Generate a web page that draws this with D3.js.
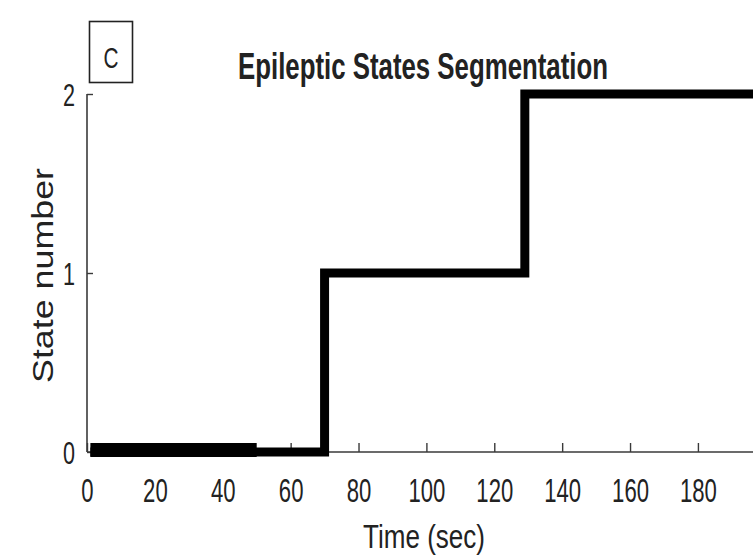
<!DOCTYPE html>
<html>
<head>
<meta charset="utf-8">
<script src="https://cdn.jsdelivr.net/npm/d3@7"></script>
<style>
  html, body { margin: 0; padding: 0; background: #fff; }
  svg { display: block; }
  text { font-family: "Liberation Sans", Arial, sans-serif; fill: #222; }
</style>
</head>
<body>
<svg id="chart" width="753" height="559"></svg>
<script>
// Segment boundaries (seconds) and the state held on each segment
const segmentStarts = [1, 70, 129];
const segmentEnds   = [70, 129, 200];
const segmentStates = [0, 1, 2];

// Early part of state 0 drawn heavier
const heavyStart = 1;
const heavyEnd = 50;
const heavyState = 0;

const xTicks = [0, 20, 40, 60, 80, 100, 120, 140, 160, 180];
const yTicks = [0, 1, 2];

const titleText = "Epileptic States Segmentation";
const xLabel = "Time (sec)";
const yLabel = "State number";
const panelLetter = "C";

const svg = d3.select("#chart");

const x = d3.scaleLinear().domain([0, 200]).range([87, 765.8]);
const y = d3.scaleLinear().domain([0, 2]).range([452, 94]);

// Build the step path from the segments
const stepPoints = [];
segmentStarts.forEach((s, i) => {
  stepPoints.push([s, segmentStates[i]]);
  stepPoints.push([segmentEnds[i], segmentStates[i]]);
});

const line = d3.line().x(d => x(d[0])).y(d => y(d[1]));

// Axes
const axisColor = "#3a3a3a";

const xAxis = d3.axisBottom(x).tickValues(xTicks).tickSizeInner(-9).tickSizeOuter(0).tickFormat(d3.format("d"));
const gx = svg.append("g").attr("transform", `translate(0,${y(0)})`).call(xAxis);
gx.select(".domain").attr("stroke", axisColor).attr("stroke-width", 1.6).attr("d", `M${x(0)},0H753`);
gx.selectAll(".tick line").attr("stroke", axisColor).attr("stroke-width", 1.4);
gx.selectAll(".tick text")
  .attr("y", 50).attr("dy", 0)
  .attr("font-size", 33)
  .attr("fill", "#222")
  .attr("font-family", "Liberation Sans, Arial, sans-serif")
  .attr("text-anchor", "middle")
  .attr("lengthAdjust", "spacingAndGlyphs")
  .attr("textLength", function() { return 12.3 * this.textContent.length; });

const yAxis = d3.axisLeft(y).tickValues(yTicks).tickSizeInner(-6).tickSizeOuter(0).tickFormat(d3.format("d"));
const gy = svg.append("g").attr("transform", `translate(${x(0)},0)`).call(yAxis);
gy.select(".domain").attr("stroke", axisColor).attr("stroke-width", 1.6).attr("d", `M0,${y(2)}V${y(0)}`);
gy.selectAll(".tick line").attr("stroke", axisColor).attr("stroke-width", 1.4);
gy.selectAll(".tick text")
  .attr("x", -12).attr("dy", "0.36em")
  .attr("font-size", 31)
  .attr("fill", "#222")
  .attr("font-family", "Liberation Sans, Arial, sans-serif")
  .attr("text-anchor", "end")
  .attr("lengthAdjust", "spacingAndGlyphs")
  .attr("textLength", 12);

// State sequence
svg.append("path")
  .datum(stepPoints)
  .attr("d", line)
  .attr("fill", "none")
  .attr("stroke", "#000")
  .attr("stroke-width", 9)
  .attr("stroke-linejoin", "miter");

svg.append("path")
  .datum([[heavyStart, heavyState], [heavyEnd, heavyState]])
  .attr("d", line)
  .attr("fill", "none")
  .attr("stroke", "#000")
  .attr("stroke-width", 14)
  .attr("transform", "translate(0,-2)");

// Title and axis labels
svg.append("text")
  .attr("x", 423).attr("y", 79)
  .attr("text-anchor", "middle")
  .attr("font-size", 36).attr("font-weight", "bold")
  .attr("fill", "#111")
  .attr("lengthAdjust", "spacingAndGlyphs").attr("textLength", 370)
  .text(titleText);

svg.append("text")
  .attr("x", 424).attr("y", 548)
  .attr("text-anchor", "middle")
  .attr("font-size", 34)
  .attr("lengthAdjust", "spacingAndGlyphs").attr("textLength", 122)
  .text(xLabel);

svg.append("text")
  .attr("transform", "translate(53,275.5) rotate(-90)")
  .attr("text-anchor", "middle")
  .attr("font-size", 29)
  .attr("lengthAdjust", "spacingAndGlyphs").attr("textLength", 215)
  .text(yLabel);

// Panel letter box
svg.append("rect")
  .attr("x", 89.5).attr("y", 21.5).attr("width", 43).attr("height", 61)
  .attr("fill", "none").attr("stroke", "#222").attr("stroke-width", 1.6);
svg.append("text")
  .attr("x", 111).attr("y", 68)
  .attr("text-anchor", "middle")
  .attr("font-size", 29)
  .attr("lengthAdjust", "spacingAndGlyphs").attr("textLength", 15)
  .text(panelLetter);
</script>
</body>
</html>
